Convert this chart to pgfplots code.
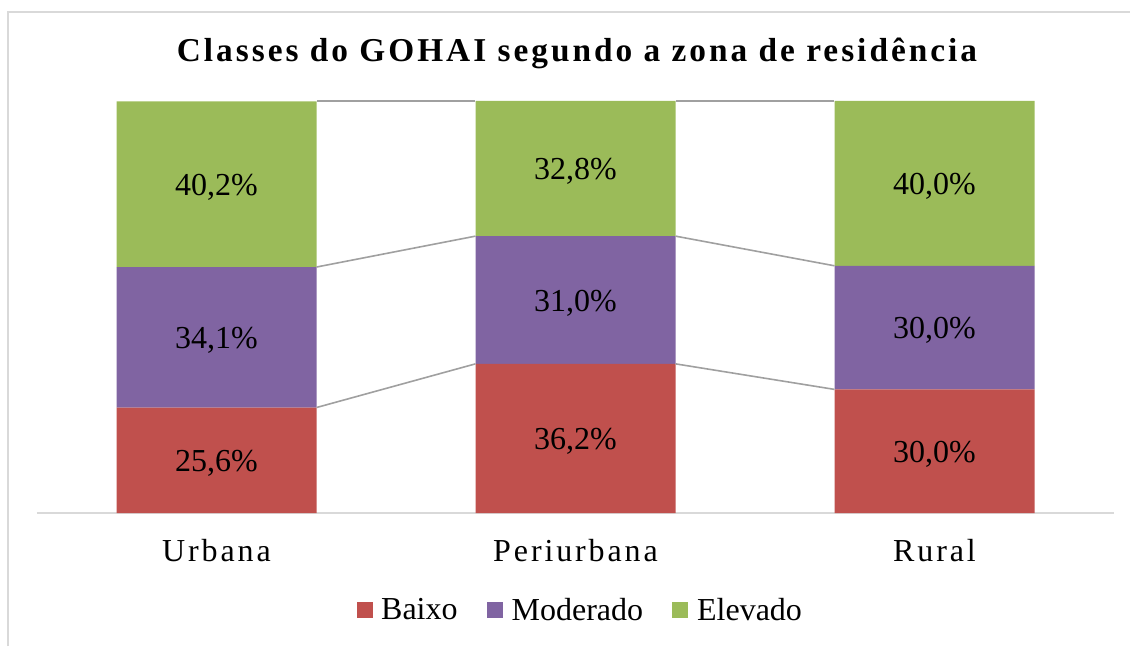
\documentclass[border=0pt]{standalone}
\usepackage{pgfplots}
\pgfplotsset{compat=1.18}
\usepackage{fontspec}
\setmainfont{Liberation Serif}
\definecolor{baixo}{HTML}{C0504D}
\definecolor{moderado}{HTML}{8064A2}
\definecolor{elevado}{HTML}{9BBB59}
\definecolor{serline}{HTML}{A0A0A0}
\definecolor{frame}{HTML}{D9D9D9}
\pgfplotsset{sqleg/.style={legend image code/.code={\fill[##1] (0pt,-6pt) rectangle (12pt,6pt);}}}
\begin{document}
\begin{tikzpicture}
\begin{scope}[x=0.75pt,y=0.75pt]
\useasboundingbox (0,0) rectangle (1130,646);
\draw[frame, line width=1.5pt] (8,0) -- (8,634) -- (1130,634);
\node[font=\fontsize{25}{30}\selectfont\bfseries\addfontfeature{LetterSpace=9}, anchor=base, inner sep=0pt] at (577,584) {Classes do GOHAI segundo a zona de residência};
\end{scope}
\begin{axis}[
  at={(27.75pt,99.75pt)}, anchor=south west,
  scale only axis, width=807.75pt, height=309pt,
  xmin=-0.5, xmax=2.5, ymin=0, ymax=100,
  ybar stacked, bar width=0.5571,
  axis x line=bottom, axis y line=none,
  axis line style={-},
  x axis line style={frame, line width=1.5pt},
  xtick={0,1,2}, xticklabels={Urbana,Periurbana,Rural},
  major tick length=0pt,
  xticklabel style={font=\fontsize{24}{29}\selectfont\addfontfeature{LetterSpace=9}, anchor=base, yshift=-36pt, inner sep=0pt},
  legend style={at={(0.5047,-0.2354)}, anchor=center, draw=none, fill=none, legend columns=3,
    font=\fontsize{24}{29}\selectfont,
    /tikz/every odd column/.append style={column sep=4.5pt},
    /tikz/every even column/.append style={column sep=20pt}},
]
\addplot[fill=baixo, draw=none, sqleg] coordinates {(0,25.6) (1,36.2) (2,30.0)};
\addlegendentry{Baixo}
\addplot[fill=moderado, draw=none, sqleg] coordinates {(0,34.1) (1,31.0) (2,30.0)};
\addlegendentry{Moderado}
\addplot[fill=elevado, draw=none, sqleg] coordinates {(0,40.2) (1,32.8) (2,40.0)};
\addlegendentry{Elevado}
\end{axis}
\begin{axis}[
  at={(27.75pt,99.75pt)}, anchor=south west,
  scale only axis, width=807.75pt, height=309pt,
  xmin=-0.5, xmax=2.5, ymin=0, ymax=100,
  hide axis, clip=false, unbounded coords=jump,
]
\addplot[serline, line width=1.2pt, mark=none] coordinates {(0.2786,25.6) (0.7214,36.2) (1,nan) (1.2786,36.2) (1.7214,30.0)};
\addplot[serline, line width=1.2pt, mark=none] coordinates {(0.2786,59.7) (0.7214,67.2) (1,nan) (1.2786,67.2) (1.7214,60.0)};
\addplot[serline, line width=1.2pt, mark=none] coordinates {(0.2786,100) (0.7214,100) (1,nan) (1.2786,100) (1.7214,100)};
\addplot[draw=none, mark=none, nodes near coords, point meta=explicit symbolic,
  every node near coord/.style={font=\fontsize{24}{29}\selectfont, anchor=center, inner sep=0pt, text=black, yshift=-2.25pt}]
  table[meta=lab, row sep=\\] {
  x y lab\\
  0 12.8 25,6\%\\
  0 42.65 34,1\%\\
  0 79.8 40,2\%\\
  1 18.1 36,2\%\\
  1 51.7 31,0\%\\
  1 83.6 32,8\%\\
  2 15.0 30,0\%\\
  2 45.0 30,0\%\\
  2 80.0 40,0\%\\
};
\end{axis}
\end{tikzpicture}
\end{document}
